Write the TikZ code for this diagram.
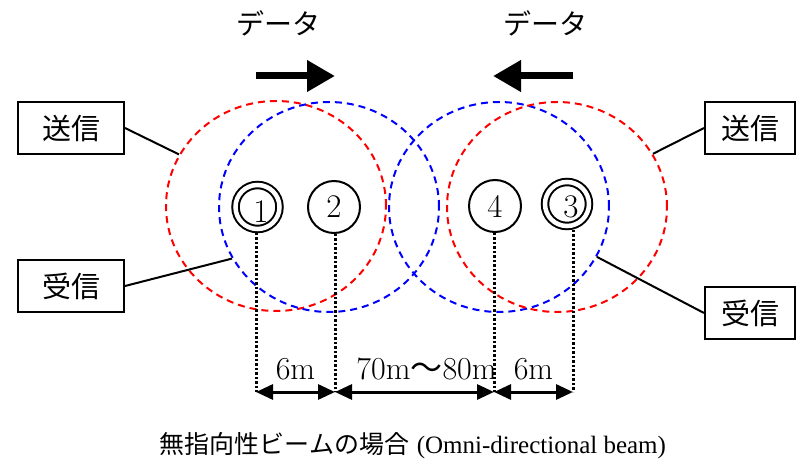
\documentclass[tikz,border=0pt]{standalone}
\usepackage{fontspec}
\newfontfamily\jpfont{Noto Sans CJK JP}
\newfontfamily\capfont{Liberation Serif}
\usepackage{tikz}
\usetikzlibrary{positioning, arrows.meta, calc, shapes.geometric}
\definecolor{beamred}{HTML}{FF0000}
\definecolor{beamblue}{HTML}{0000FF}

\tikzset{
  beam/.style={ellipse, dash pattern=on 7pt off 5pt, line width=2pt,
               minimum width=220pt, minimum height=210pt, inner sep=0pt},
  station/.style={draw, circle, line width=2pt, minimum size=52pt, inner sep=0pt,
                  font=\fontsize{33}{38}\selectfont},
  relay/.style={station, double, double distance=4.5pt, minimum size=44pt, outer sep=4pt},
  digit/.style={inner sep=0pt, font=\fontsize{33}{38}\selectfont},
  tag/.style={draw, line width=2pt, minimum width=106pt, minimum height=52pt,
              inner sep=0pt, font=\jpfont\fontsize{29}{34}\selectfont},
  lead/.style={line width=2pt},
  guide/.style={line width=3pt, dash pattern=on 2.2pt off 2.3pt},
  span/.style={line width=3pt, {Triangle[length=17pt, width=15pt]}-{Triangle[length=17pt, width=15pt]}},
  spanlabel/.style={anchor=base, yshift=12pt, inner sep=0pt, font=\fontsize{32}{38}\selectfont},
  flow/.style={line width=7pt, -{Triangle[length=28pt, width=30pt]}},
  jplabel/.style={font=\jpfont\fontsize{28}{34}\selectfont}
}

\begin{document}
\begin{tikzpicture}[x=1pt, y=-1pt]
  \useasboundingbox (0,0) rectangle (796,465);

  % coverage of each antenna
  \node[beam, draw=beamred] (redL) at (276,206) {};
  \node[beam, draw=beamblue] (blueL) at (329,207) {};
  \node[beam, draw=beamblue] (blueR) at (499,207) {};
  \node[beam, draw=beamred] (redR) at (557,207) {};

  % stations
  \node[relay] (n1) at (257.5,207) {};
  \node[station] (n2) at (334,207) {2};
  \node[station] (n4) at (495,206) {4};
  \node[relay] (n3) at (567,204) {};
  \node[digit] (n1num) at ($(n1)+(3.5,5)$) {1};
  \node[digit] (n3num) at ($(n3)+(4,3)$) {3};

  % data direction
  \coordinate (fL1) at (256,76);
  \coordinate (fL2) at (335,76);
  \coordinate (fR1) at (573,76);
  \coordinate (fR2) at (493,76);
  \draw[flow] (fL1) -- (fL2);
  \draw[flow] (fR1) -- (fR2);
  \node[jplabel] (dataL) at (278,23) {データ};
  \node[jplabel] (dataR) at (545,23) {データ};

  % tags
  \node[tag] (txL) at (71,128) {送信};
  \node[tag] (rxL) at (71,286) {受信};
  \node[tag, minimum width=90pt] (txR) at (750,128) {送信};
  \node[tag, minimum width=90pt] (rxR) at (750,313) {受信};
  \draw[lead] (txL.east) -- (redL.152);
  \draw[lead] (rxL.east) -- (blueL.208);
  \draw[lead] (txR.west) -- (redR.29);
  \draw[lead] (rxR.west) -- (blueR.333);

  % distances
  \coordinate (b1) at (256,392);
  \coordinate (b2) at (335,392);
  \coordinate (b3) at (573,392);
  \coordinate (b4) at (494,392);
  \foreach \n in {1,2,3,4}
    \draw[guide] (b\n |- n\n.south) -- (b\n);
  \draw[span] (b1) -- node[spanlabel] (d12) {6m} (b2);
  \draw[span] (b2) -- node[spanlabel, xshift=12pt] (d24) {70m{\jpfont ～}80m} (b4);
  \draw[span] (b4) -- node[spanlabel] (d43) {6m} (b3);

  \node[font=\fontsize{25}{30}\selectfont] (caption) at (413,446)
    {{\jpfont 無指向性ビームの場合}\ \capfont (Omni-directional beam)};
\end{tikzpicture}
\end{document}
